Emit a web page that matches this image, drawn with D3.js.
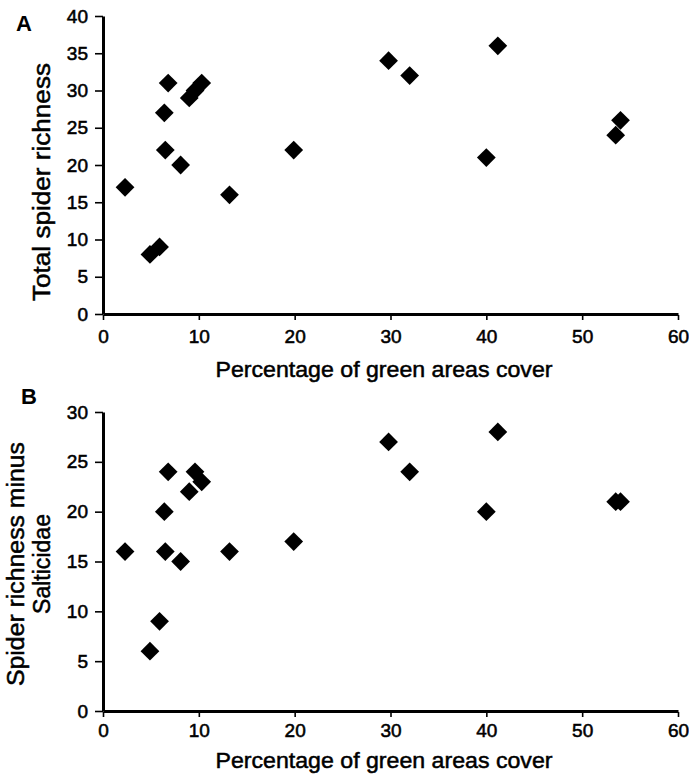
<!DOCTYPE html>
<html>
<head>
<meta charset="utf-8">
<script src="https://cdn.jsdelivr.net/npm/d3@7"></script>
<style>
  html, body { margin: 0; padding: 0; background: #fff; }
  svg { display: block; font-family: "Liberation Sans", Arial, Helvetica, sans-serif; }
  .tick text { font-size: 19px; fill: #000; stroke: #000; stroke-width: 0.55px; }
  .title { fill: #000; stroke: #000; stroke-width: 0.5px; }
</style>
</head>
<body>
<svg id="chart" width="689" height="776"></svg>
<script>
// Green-area cover (%) per site, shared by both panels
const greenCover = [2.3, 4.9, 5.9, 6.4, 6.5, 6.8, 8.1, 9.0, 9.6, 10.3, 13.2, 19.9, 29.8, 32.0, 40.0, 41.2, 53.5, 54.0];
// Panel A: total spider richness per site
const totalRichness = [17, 8, 9, 27, 22, 31, 20, 29, 30, 31, 16, 22, 34, 32, 21, 36, 24, 26];
// Panel B: spider richness without Salticidae per site
const richnessMinusSalticidae = [16, 6, 9, 20, 16, 24, 15, 22, 24, 23, 16, 17, 27, 24, 20, 28, 21, 21];

const xTicks = [0, 10, 20, 30, 40, 50, 60];
const yTicksA = [0, 5, 10, 15, 20, 25, 30, 35, 40];
const yTicksB = [0, 5, 10, 15, 20, 25, 30];

const svg = d3.select("#chart");

// filled diamond marker (square turned 45 degrees)
const diamond = {
  draw(ctx, size) {
    const r = Math.sqrt(size / 2);
    ctx.moveTo(0, -r);
    ctx.lineTo(r, 0);
    ctx.lineTo(0, r);
    ctx.lineTo(-r, 0);
    ctx.closePath();
  }
};
const marker = d3.symbol().type(diamond).size(176);

function panel(opts) {
  const x = d3.scaleLinear().domain([0, 60]).range([103, 678]);
  const y = d3.scaleLinear().domain([0, opts.yMax]).range([opts.bottom, opts.top]);
  const g = svg.append("g");

  // x axis
  const xa = g.append("g")
    .attr("transform", `translate(0,${opts.bottom})`)
    .call(d3.axisBottom(x).tickValues(xTicks).tickSize(5).tickSizeOuter(0).tickPadding(opts.xPad));
  xa.select(".domain").attr("stroke-width", 3).attr("stroke", "#000");
  xa.selectAll(".tick line").attr("stroke-width", 1.6).attr("stroke", "#000")
    .attr("transform", "translate(0,1)");

  // y axis
  const ya = g.append("g")
    .attr("transform", "translate(103,0)")
    .call(d3.axisLeft(y).tickValues(opts.yTicks).tickSize(8).tickSizeOuter(0).tickPadding(7));
  ya.select(".domain").attr("stroke-width", 3).attr("stroke", "#000");
  ya.selectAll(".tick line").attr("stroke-width", 1.6).attr("stroke", "#000");

  svg.selectAll(".tick text").attr("font-family", null).attr("font-size", null);

  // points
  g.append("g").selectAll("path")
    .data(opts.values)
    .join("path")
    .attr("d", marker)
    .attr("fill", "#000")
    .attr("transform", (d, i) => `translate(${x(greenCover[i])},${y(d)})`);

  // x title
  g.append("text")
    .attr("class", "title")
    .attr("x", 384)
    .attr("y", opts.xTitleY)
    .attr("text-anchor", "middle")
    .attr("font-size", 22)
    .attr("textLength", 337)
    .attr("lengthAdjust", "spacingAndGlyphs")
    .text("Percentage of green areas cover");

  // y title (one or two lines)
  opts.yTitle.forEach(line => {
    g.append("text")
      .attr("class", "title")
      .attr("transform", `translate(${line.x},${opts.yTitleCy}) rotate(-90)`)
      .attr("text-anchor", "middle")
      .attr("font-size", 23)
      .attr("textLength", line.len)
      .attr("lengthAdjust", "spacingAndGlyphs")
      .text(line.text);
  });

  // panel letter
  g.append("text")
    .attr("x", opts.letterX)
    .attr("y", opts.letterY)
    .attr("font-size", 22)
    .attr("font-weight", "bold")
    .text(opts.letter);
}

panel({
  yMax: 40, top: 16, bottom: 314, yTicks: yTicksA, values: totalRichness,
  xPad: 11, xTitleY: 377,
  yTitle: [{ text: "Total spider richness", x: 50, len: 238 }], yTitleCy: 182,
  letter: "A", letterX: 16, letterY: 31
});

panel({
  yMax: 30, top: 412, bottom: 711, yTicks: yTicksB, values: richnessMinusSalticidae,
  xPad: 8, xTitleY: 768,
  yTitle: [
    { text: "Spider richness minus", x: 24, len: 244 },
    { text: "Salticidae", x: 50, len: 100 }
  ], yTitleCy: 564,
  letter: "B", letterX: 21, letterY: 404
});
</script>
</body>
</html>
